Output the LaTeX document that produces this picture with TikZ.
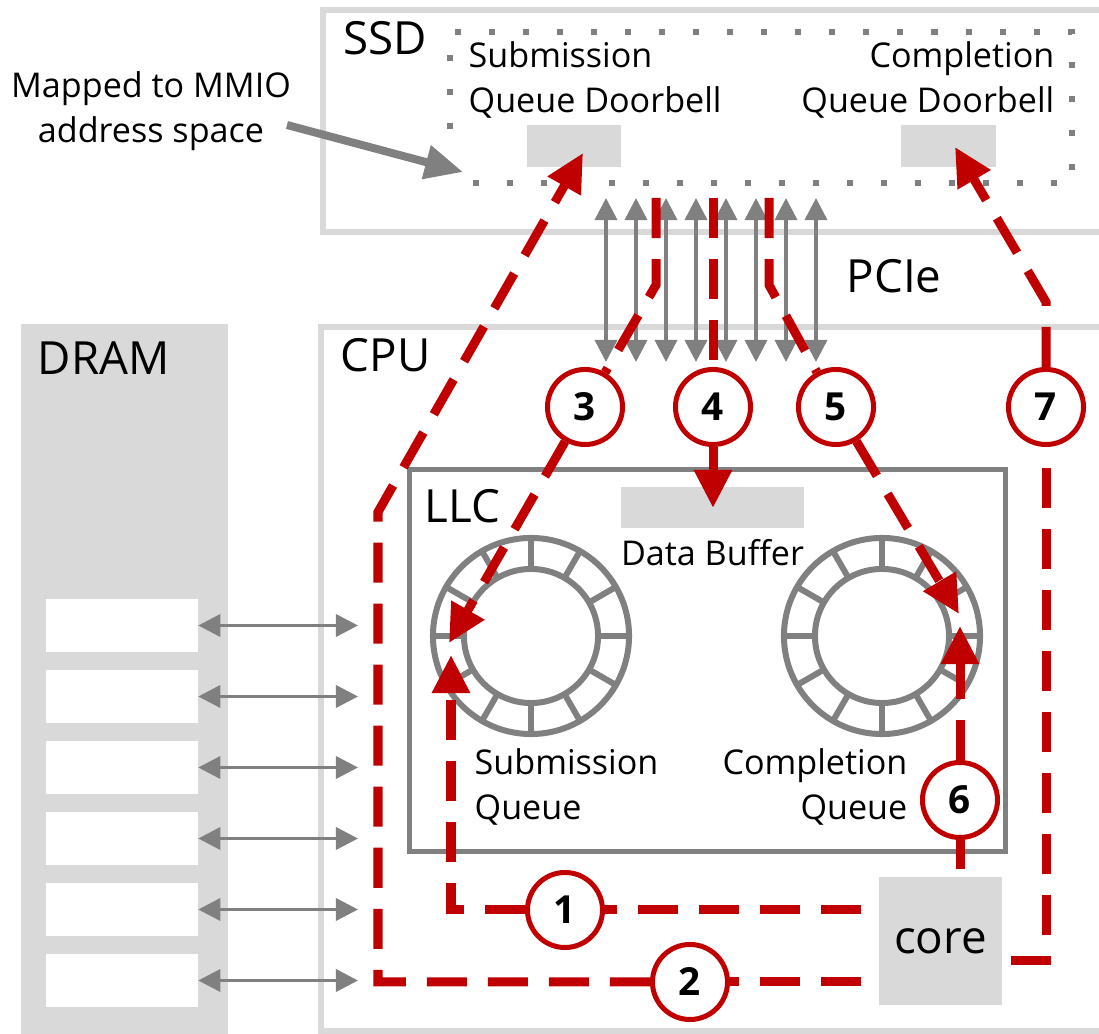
\documentclass[tikz,border=0pt]{standalone}
\usepackage{fontspec}
\setmainfont{Open Sans}
\usepackage{tikz}
\usetikzlibrary{
  arrows.meta,
  positioning,
  calc
}
\definecolor{FlowRed}{RGB}{192,0,0}
\definecolor{WireGray}{RGB}{128,128,128}
\definecolor{PanelGray}{RGB}{217,217,217}
\tikzset{
  panelframe/.style={draw=PanelGray, line width=0.06cm},
  bigtext/.style={font=\fontsize{13}{15}\selectfont, inner sep=0pt},
  smalltext/.style={font=\fontsize{9.7}{12.8}\selectfont, inner sep=0pt},
  greybox/.style={fill=PanelGray, draw=none, inner sep=0pt},
  slotbox/.style={fill=white, draw=none, minimum width=1.51cm, minimum height=0.53cm},
  ringline/.style={draw=WireGray, line width=0.06cm},
  stepnum/.style={
    circle,
    draw=FlowRed,
    line width=0.05cm,
    fill=white,
    minimum size=0.75cm,
    inner sep=0pt,
    font=\fontsize{11}{13}\selectfont\bfseries
  },
  busarrow/.style={{Triangle[length=0.22cm,width=0.22cm]}-{Triangle[length=0.22cm,width=0.22cm]},draw=WireGray,line width=0.035cm},
  mmioarrow/.style={-{Triangle[length=0.38cm,width=0.33cm]},draw=WireGray,line width=0.08cm},
  flow/.style={draw=FlowRed,line width=0.09cm,dash pattern=on 0.4cm off 0.21cm},
  flowarrow/.style={flow,-{Triangle[length=0.38cm,width=0.36cm]}},
  dotline/.style={draw=WireGray,line width=0.06cm,dash pattern=on 0.06cm off 0.28cm}
}

\begin{document}
\begin{tikzpicture}[x=0.01cm, y=-0.01cm]
  \useasboundingbox (0,0) rectangle (1099,1034);

  \draw[panelframe] (1110,10) -- (323,10) -- (323,232) -- (1110,232);
  \draw[panelframe] (1110,327) -- (321,327) -- (321,1031) -- (1110,1031);
  \fill[PanelGray] (21,324) rectangle (228,1040);

  \node[bigtext, anchor=base west] (ssdlbl) at (343,55) {SSD};
  \node[bigtext, anchor=base west] (cpulbl) at (340,372) {CPU};
  \node[bigtext, anchor=base west] (dramlbl) at (37,375) {DRAM};
  \node[bigtext, anchor=base west] (pcielbl) at (846,293) {PCIe};

  % SSD registers
  \draw[dotline] (473,183) -- (1072,183) -- (1072,32) -- (450,32) -- (450,140);
  \node[greybox, minimum width=0.94cm, minimum height=0.42cm] (sqdb) at (574,146) {};
  \node[greybox, minimum width=0.94cm, minimum height=0.42cm] (cqdb) at (948.5,146) {};
  \node[smalltext, anchor=base west, align=left] (sqdblbl) at (468,113) {Submission\\Queue Doorbell};
  \node[smalltext, anchor=base east, align=right] (cqdblbl) at (1055,113) {Completion\\Queue Doorbell};

  \node[smalltext, anchor=base, align=center] (mmio) at (151,143) {Mapped to MMIO\\address space};
  \coordinate (mmiotail) at (287,125);
  \coordinate (mmiotip) at (463,172);
  \draw[mmioarrow] (mmiotail) -- (mmiotip);

  % PCIe lanes
  \foreach \i in {0,...,7}{
    \coordinate (lanetop\i) at (606+30*\i,198);
    \coordinate (lanebot\i) at (606+30*\i,362);
    \draw[busarrow] (lanetop\i) -- (lanebot\i);
  }

  % DRAM slots
  \foreach \i in {0,...,5}{
    \node[slotbox] (slot\i) at (122,625.5+71*\i) {};
    \coordinate (memport\i) at (358,625.5+71*\i);
    \draw[busarrow] (slot\i.east) -- (memport\i);
  }

  % LLC
  \node[draw=WireGray, line width=0.05cm, minimum width=5.95cm, minimum height=3.81cm, inner sep=0pt] (llc) at (707.5,660.5) {};
  \node[bigtext, anchor=base west] (llclbl) at (424,523) {LLC};
  \node[greybox, minimum width=1.83cm, minimum height=0.41cm] (dbuf) at (712.5,507.5) {};
  \node[smalltext, below=0.1cm of dbuf] (dbuflbl) {Data Buffer};

  \node[circle, ringline, minimum size=1.96cm, inner sep=0pt] (sq) at (531,636) {};
  \node[circle, ringline, minimum size=1.34cm, inner sep=0pt] (sqhub) at (sq) {};
  \node[circle, ringline, minimum size=1.96cm, inner sep=0pt] (cq) at (882,636) {};
  \node[circle, ringline, minimum size=1.34cm, inner sep=0pt] (cqhub) at (cq) {};
  \foreach \a in {0,30,...,330}{
    \draw[ringline] ($(sq)+(\a:67)$) -- ($(sq)+(\a:98)$);
    \draw[ringline] ($(cq)+(\a:67)$) -- ($(cq)+(\a:98)$);
  }
  \node[smalltext, anchor=base west, align=left] (sqlbl) at (474,820) {Submission\\Queue};
  \node[smalltext, anchor=base east, align=right] (cqlbl) at (908,820) {Completion\\Queue};

  \node[greybox, minimum width=1.23cm, minimum height=1.28cm, font=\fontsize{13}{15}\selectfont] (core) at (940.5,941) {core};

  % steps
  \node[stepnum] (s1) at (565,910) {1};
  \node[stepnum] (s2) at (690,982) {2};
  \node[stepnum] (s3) at (585,407) {3};
  \node[stepnum] (s4) at (713,407) {4};
  \node[stepnum] (s5) at (836,407) {5};
  \node[stepnum] (s6) at (960,800) {6};
  \node[stepnum] (s7) at (1046,407) {7};

  \coordinate (bend1) at (451,910);
  \coordinate (sqin1) at (451,655);
  \coordinate (bend2a) at (378,982);
  \coordinate (bend2b) at (378,512);
  \coordinate (sqdbin) at (583,153);
  \coordinate (p3top) at (656,198);
  \coordinate (p3bend) at (656,285);
  \coordinate (sqin3) at (449,643);
  \coordinate (p4top) at (713,198);
  \coordinate (dbufin) at (713,508);
  \coordinate (p5top) at (769,198);
  \coordinate (p5bend) at (769,285);
  \coordinate (cqin5) at (959,614);
  \coordinate (cqin6) at (960,626);
  \coordinate (p7corner) at (1046,961);
  \coordinate (p7bend) at (1046,302);
  \coordinate (cqdbin) at (955,147);

  \draw[flow, shorten <=0.17cm] (core.west |- s1) -- (s1);
  \draw[flowarrow] (s1) -- (bend1) -- (sqin1);
  \draw[flow, shorten <=0.17cm] (core.west |- s2) -- (s2);
  \draw[flowarrow] (s2) -- (bend2a) -- (bend2b) -- (sqdbin);
  \draw[flow] (p3top) -- (p3bend) -- (s3);
  \draw[flowarrow] (s3) -- (sqin3);
  \draw[flow] (p4top) -- (s4);
  \draw[flowarrow] (s4) -- (dbufin);
  \draw[flow] (p5top) -- (p5bend) -- (s5);
  \draw[flowarrow] (s5) -- (cqin5);
  \draw[flow, shorten <=0.07cm] (core.north -| s6) -- (s6);
  \draw[flowarrow] (s6) -- (cqin6);
  \draw[flow, shorten <=0.08cm] (core.east |- p7corner) -- (p7corner) -- (s7);
  \draw[flowarrow] (s7) -- (p7bend) -- (cqdbin);
\end{tikzpicture}
\end{document}
